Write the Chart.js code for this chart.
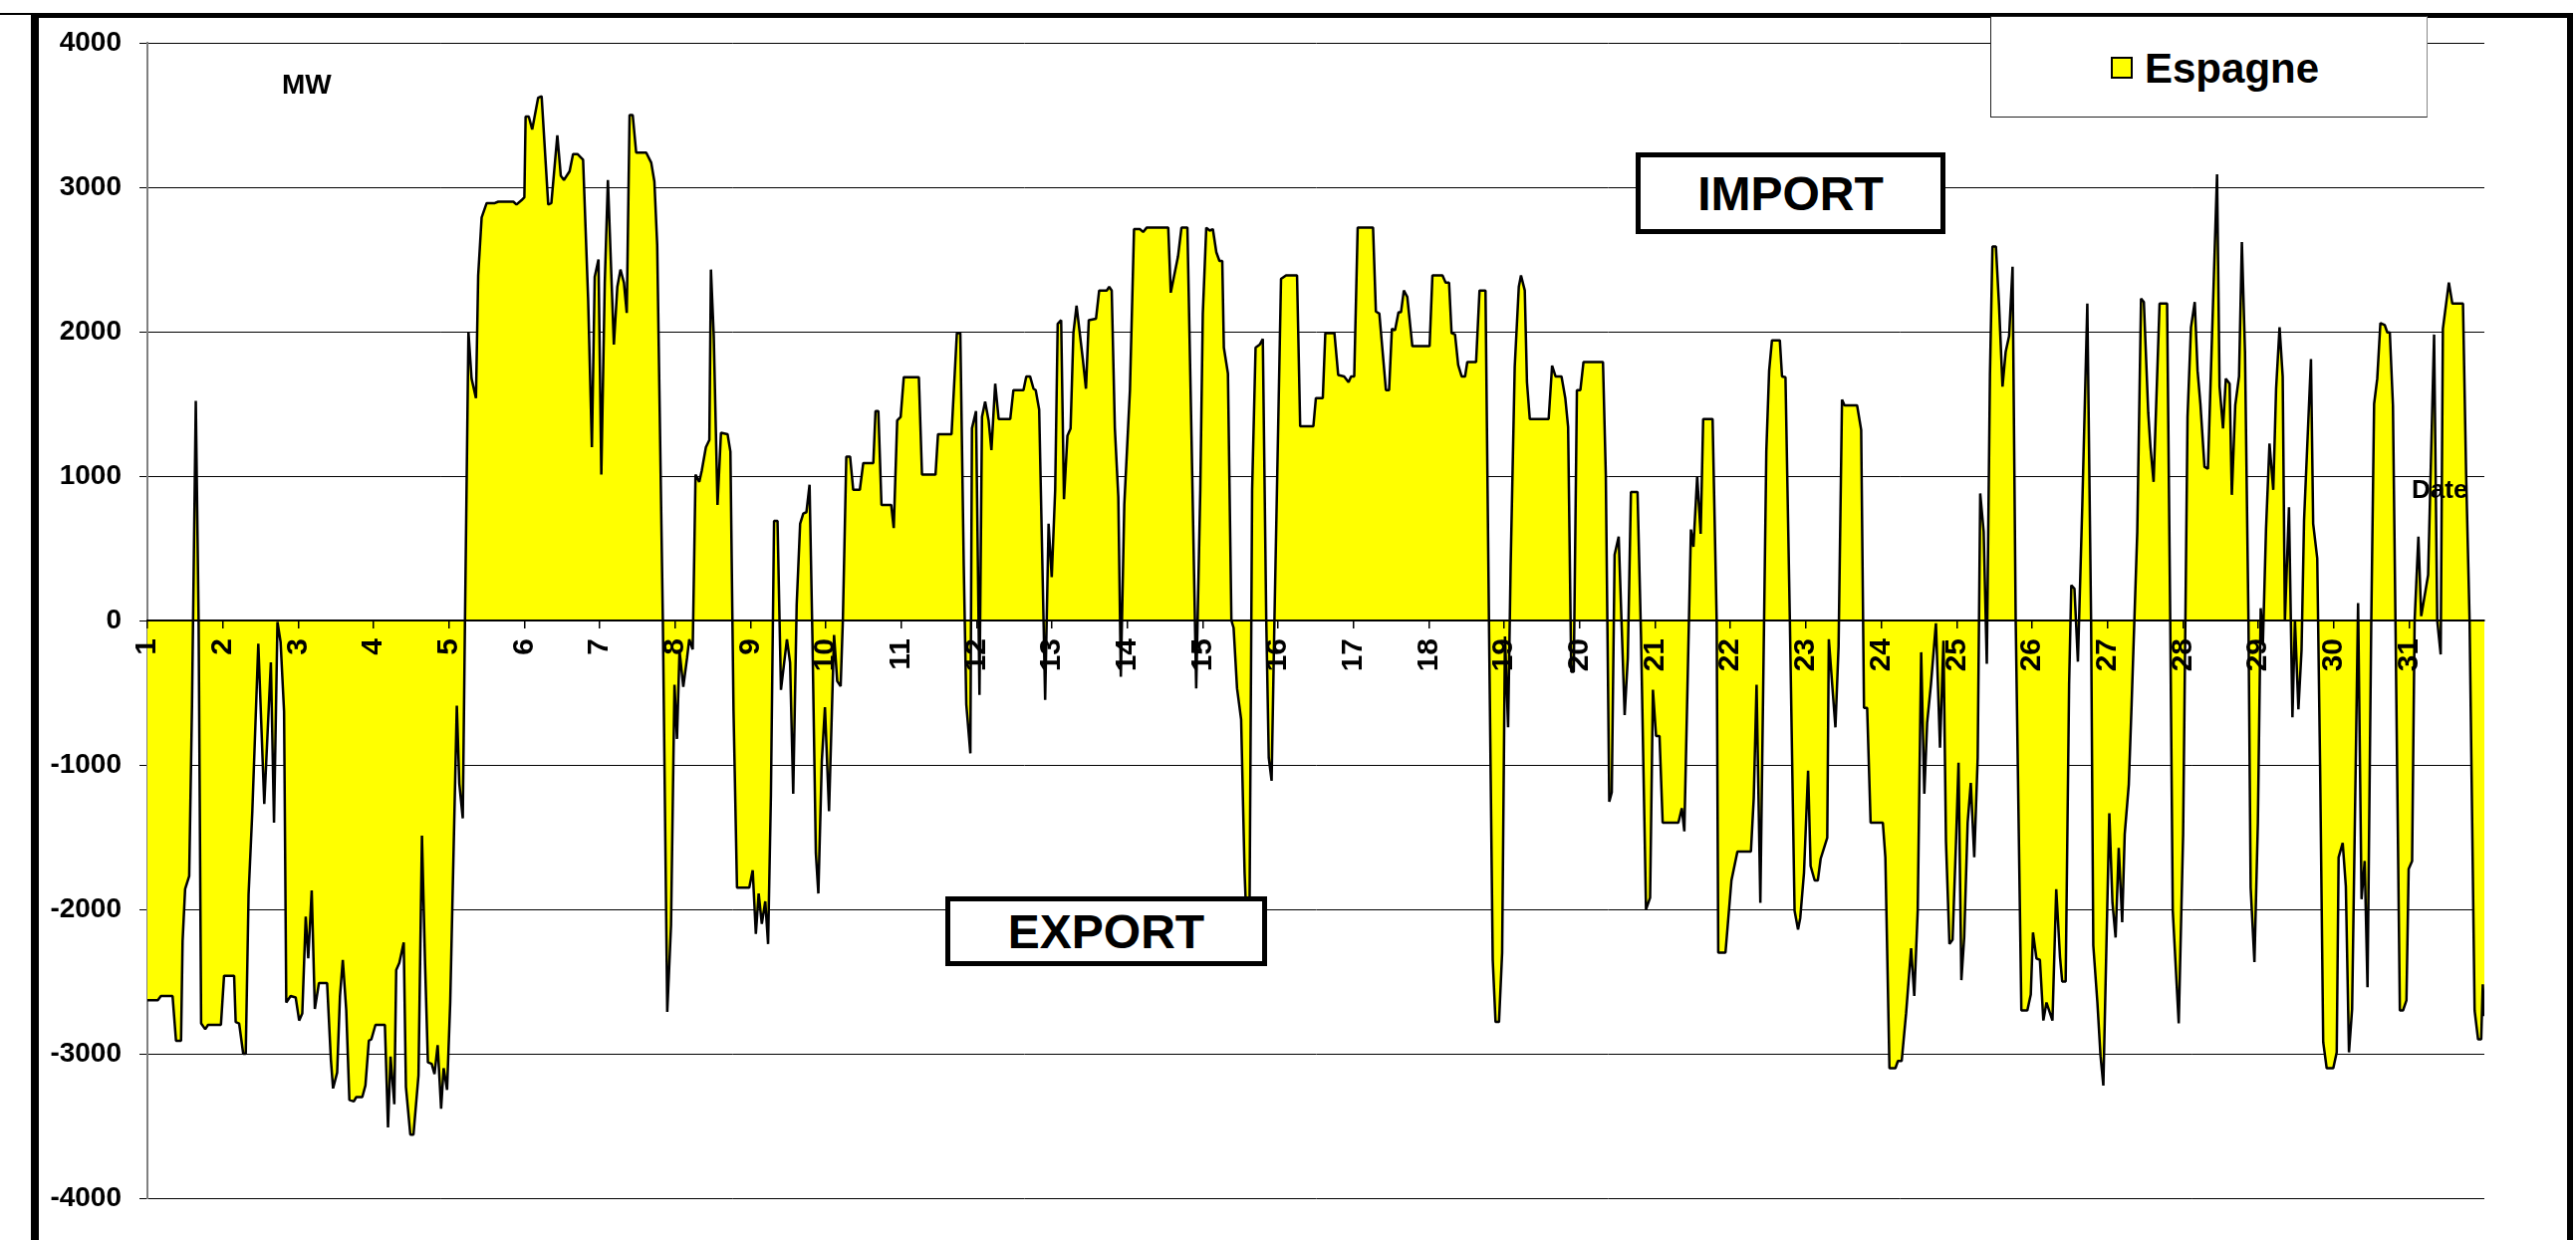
<!DOCTYPE html>
<html>
<head>
<meta charset="utf-8">
<script src="https://cdn.jsdelivr.net/npm/chart.js@4.4.0/dist/chart.umd.min.js"></script>
<style>
  body { margin: 0; background: #fff; }
  #wrap { position: relative; width: 2586px; height: 1245px; overflow: hidden;
          font-family: "Liberation Sans", Arial, sans-serif; font-weight: bold; color: #000; }
  canvas { position: absolute; left: 0; top: 0; }
  .line { position: absolute; background: #000; }
  .box { position: absolute; box-sizing: border-box; border: 5px solid #000; background: #fff;
         display: flex; align-items: center; justify-content: center; font-size: 48px; }
  .note { position: absolute; white-space: nowrap; }
  #legend { position: absolute; left: 1998px; top: 16px; width: 439px; height: 102px; box-sizing: border-box;
            background: #fff; border: 1.5px solid #222; border-right-color: #888; }
  #swatch { position: absolute; left: 120px; top: 40px; width: 22px; height: 22px; box-sizing: border-box;
            background: #ffff00; border: 2px solid #000; }
  #legtext { position: absolute; left: 154px; top: 31px; font-size: 42px; line-height: 42px; }
</style>
</head>
<body>
<div id="wrap">
  <canvas id="chart" width="2586" height="1245"></canvas>
  <div class="line" style="left:0;top:13px;width:31px;height:2px"></div>
  <div class="line" style="left:31px;top:13px;width:2552px;height:5px"></div>
  <div class="line" style="left:31px;top:13px;width:8px;height:1232px"></div>
  <div class="line" style="left:2577px;top:13px;width:6px;height:1232px"></div>
  <div id="legend"><div id="swatch"></div><div id="legtext">Espagne</div></div>
  <div class="note" style="left:283px;top:71px;font-size:28px;line-height:28px">MW</div>
  <div class="note" style="left:2421px;top:478px;font-size:26px;line-height:26px">Date</div>
  <div class="box" style="left:1642px;top:153px;width:311px;height:82px">IMPORT</div>
  <div class="box" style="left:949px;top:900px;width:323px;height:70px">EXPORT</div>
</div>
<script>
// hours since the 1st of the month, 00:00
const hours = [
  0, 3.3, 4.3, 8, 9.1, 10.7, 11.2, 12, 13.3, 14.2,
  15.4, 16.3, 17.1, 18.4, 19.3, 23.4, 24.4, 27.6, 28.1, 29.2,
  30.5, 31.3, 32.2, 33.4, 35.3, 37.2, 39.3, 40.3, 41.4, 42.4,
  43.5, 44.2, 45.6, 47.2, 48.3, 49.3, 50.4, 51.2, 52.3, 53.3,
  54.6, 57.2, 58.4, 59.1, 60.4, 61.3, 62.2, 63.3, 64.3, 65.7,
  66.5, 68.4, 69.4, 70.5, 71.3, 72.6, 75.6, 76.6, 77.4, 78.6,
  79.2, 80.2, 81.6, 82.3, 83.7, 84.7, 86.3, 87.4, 88.4, 89.3,
  90.5, 91.4, 92.4, 93.5, 94.3, 95.4, 96.4, 98.5, 99.3, 100.4,
  101.1, 102.2, 103.2, 104.6, 105.3, 106.4, 108, 110.6, 111.7, 116.5,
  117.5, 119.1, 120, 120.4, 121.4, 122.5, 124.4, 125.5, 127.6, 128.6,
  130.5, 131.6, 132.6, 134.4, 135.5, 136.9, 138.7, 140.3, 141.5, 142.4,
  143.6, 144.5, 145.6, 146.6, 148.5, 149.6, 150.6, 151.7, 152.6, 153.5,
  154.5, 155.6, 158.8, 160.4, 161.4, 162.3, 164.1, 165.5, 166.7, 167.8,
  168.6, 169.4, 170.6, 171.8, 172.5, 173.6, 174.5, 175.7, 176.5, 177.8,
  178.9, 179.4, 180.3, 181.5, 182.6, 184.7, 185.6, 186.6, 187.7, 191.6,
  192.7, 193.7, 194.6, 195.6, 196.7, 197.6, 198.5, 199.5, 200.6, 201.7,
  203.6, 204.6, 205.6, 206.7, 207.8, 208.8, 209.8, 210.8, 211.7, 212.8,
  213.6, 214.7, 215.7, 217, 218.6, 219.6, 220.7, 221.4, 222.5, 223.7,
  224.7, 226.8, 227.9, 231.1, 231.8, 232.7, 233.7, 236.8, 237.6, 238.7,
  239.8, 240.8, 245.6, 246.6, 250.9, 251.7, 256, 257.7, 258.8, 259.9,
  260.7, 262, 262.5, 263.8, 264.9, 265.7, 266.7, 267.8, 268.7, 269.9,
  271, 274.7, 275.7, 278.9, 279.8, 281, 282.1, 282.8, 283.9, 285.3,
  285.8, 286.9, 287.9, 289, 289.8, 290.9, 291.8, 292.9, 293.9, 294.8,
  295.8, 297.8, 298.8, 299.7, 302, 303, 305.4, 306.2, 307, 308,
  309.1, 309.9, 311, 312.8, 314.1, 316, 317, 318.1, 325, 325.8,
  328.1, 329.2, 331.1, 332.4, 333.9, 335.2, 336, 337.1, 338.2, 339.2,
  340.3, 341.3, 342.2, 342.7, 344, 345.1, 345.8, 346.9, 348.2, 349.3,
  350.3, 350.9, 351.7, 352.8, 354.1, 355.1, 356.2, 357, 357.9, 358.8,
  360.9, 362.5, 366, 367, 371.2, 372, 374.2, 375, 377.9, 379.1,
  381, 382.4, 383.2, 384.2, 385.3, 390.2, 391.1, 392.2, 394.3, 395.3,
  396.2, 397.2, 398.3, 399.1, 400, 401.1, 402.7, 408.2, 409.1, 412.3,
  413.3, 414.4, 415.2, 416.3, 417.3, 418.4, 419.5, 420.2, 423, 424.1,
  426, 427.1, 428.3, 429.2, 430.3, 431.3, 432.2, 433.2, 434, 435.3,
  436.6, 437.3, 438.5, 439.2, 440.1, 446.1, 447.2, 448.3, 450.2, 451.4,
  452.3, 453.3, 454.1, 455.1, 456.2, 457.2, 463.4, 464.3, 465.4, 466.2,
  467.1, 468.4, 470.3, 471.3, 472.3, 474.4, 475.5, 477.1, 478.4, 479.3,
  480.3, 481.4, 482.4, 487.4, 488.5, 489.3, 491.4, 492.2, 493.4, 494.5,
  495.3, 498.3, 499.6, 500.1, 502.4, 504.3, 506.2, 510.5, 511.4, 512.3,
  513.5, 515.4, 516.3, 517.2, 519.7, 520.4, 521.5, 522.9, 524.4, 525.5,
  526.2, 527.4, 528.7, 529.5, 530.8, 531.8, 532.7, 534, 534.8, 535.3,
  537.4, 538.4, 539.5, 540.3, 544.3, 545.6, 546.5, 547.5, 548.6, 552.5,
  553.3, 554.6, 556.5, 557.3, 558.5, 559.9, 561.5, 562.5, 563.6, 564.7,
  565.7, 566.6, 567.8, 569.4, 570.7, 571.8, 572.6, 573.7, 574.7, 575.8,
  576.6, 577.5, 578.4, 579.5, 580.5, 581.6, 582.7, 583.5, 584.6, 585.6,
  586.6, 587.4, 588.5, 589.5, 590.6, 591.6, 592.7, 593.8, 594.8, 596.6,
  598.5, 599.6, 600.3, 601.4, 602.5, 603.6, 604.6, 606.5, 607.7, 608.9,
  609.6, 610.7, 611.8, 612.5, 613.5, 614.6, 616, 617.6, 618.8, 619.5,
  620.8, 621.8, 622.7, 624.6, 625.6, 626.6, 627.6, 628.7, 629.5, 630.8,
  631.7, 633.5, 634.7, 635.6, 637, 637.7, 638.7, 640.6, 643, 644,
  644.8, 646.7, 648.1, 649.5, 650.6, 651.8, 652.7, 653.6, 654.9, 656,
  657.3, 658.9, 659.7, 660.8, 661.7, 662.9, 663.6, 664.7, 665.9, 666.8,
  667.8, 668.9, 669.6, 670.8, 671.9, 672.8, 673.5, 674.5, 675.6, 676.8,
  677.7, 678.8, 679.8, 680.5, 681.8, 682.9, 683.7, 684.8, 685.8, 686.6,
  688.8, 689.5, 690.8, 691.7, 692.7, 693.8, 695.9, 697, 697.6, 698.9,
  699.9, 700.9, 701.9, 703.8, 704.9, 705.9, 706.8, 708, 708.9, 709.9,
  710.9, 712.3, 713.1, 713.9, 714.9, 715.7, 717.1, 718.1, 719.2, 719.9,
  721, 721.8, 723, 723.9, 726.1, 728, 729, 730.1, 730.8, 732.7,
  733.8, 737.2, 738.2, 739.3, 740.9, 742, 743, 743.5, 744
];

// Espagne exchange, MW (positive = import, negative = export)
const espagne = [
  -2630, -2630, -2600, -2600, -2910, -2910, -2220, -1860, -1770, -580,
  1520, 0, -2790, -2830, -2800, -2800, -2460, -2460, -2780, -2790,
  -3000, -3000, -1900, -1320, -160, -1270, -290, -1400, -10, -150,
  -630, -2645, -2600, -2610, -2770, -2720, -2050, -2340, -1870, -2690,
  -2510, -2510, -3040, -3240, -3130, -2600, -2350, -2700, -3320, -3330,
  -3300, -3300, -3220, -2910, -2900, -2800, -2800, -3510, -3020, -3350,
  -2420, -2370, -2230, -3230, -3560, -3560, -3150, -1490, -2380, -3060,
  -3070, -3140, -2940, -3380, -3100, -3250, -2645, -590, -1130, -1370,
  0, 2000, 1675, 1540, 2390, 2790, 2890, 2890, 2900, 2900,
  2880, 2910, 2930, 3490, 3490, 3400, 3620, 3630, 2880, 2890,
  3360, 3080, 3050, 3110, 3230, 3230, 3190, 2230, 1200, 2380,
  2500, 1010, 2340, 3050, 1910, 2310, 2430, 2340, 2130, 3500,
  3500, 3240, 3240, 3170, 3040, 2600, 0, -2710, -2110, -445,
  -820, -210, -460, -260, -130, -200, 1010, 960, 1040, 1200,
  1250, 2430, 1970, 800, 1300, 1290, 1170, -630, -1850, -1850,
  -1730, -2170, -1890, -2100, -1945, -2240, -1210, 690, 690, -480,
  -130, -290, -1200, 110, 670, 740, 750, 940, -100, -1610,
  -1890, -975, -600, -1320, -100, -420, -455, 0, 1135, 1135,
  905, 905, 1090, 1090, 1450, 1450, 800, 800, 640, 1385,
  1410, 1685, 1685, 1010, 1010, 1290, 1290, 1990, 1990, 375,
  -580, -920, 1330, 1450, -515, 1410, 1515, 1385, 1180, 1640,
  1395, 1395, 1595, 1595, 1690, 1690, 1605, 1595, 1460, 0,
  -550, 670, 300, 905, 2055, 2080, 840, 1280, 1330, 1990,
  2180, 1810, 1605, 2080, 2090, 2285, 2285, 2310, 2285, 1330,
  855, -390, 800, 1595, 2710, 2710, 2690, 2720, 2720, 2270,
  2520, 2720, 2720, 1280, -470, 905, 2125, 2720, 2700, 2710,
  2550, 2490, 2490, 1890, 1710, 0, -50, -470, -685, -1745,
  -2300, -1940, 905, 1890, 1910, 1950, 0, -950, -1110, 0,
  2365, 2390, 2390, 1345, 1345, 1540, 1540, 1990, 1990, 1700,
  1690, 1650, 1690, 1690, 2720, 2720, 2140, 2125, 1595, 1595,
  2020, 2010, 2135, 2135, 2285, 2240, 1900, 1900, 2390, 2390,
  2340, 2340, 1990, 1980, 1770, 1690, 1690, 1790, 1790, 2285,
  2285, 0, -2350, -2780, -2780, -2300, -110, -740, 375, 1755,
  2310, 2390, 2285, 1650, 1395, 1395, 1765, 1690, 1690, 1540,
  1340, -355, -355, 1595, 1595, 1790, 1790, 1010, -1255, -1190,
  455, 580, -655, -260, 890, 890, -100, -2000, -1920, -480,
  -800, -800, -1400, -1400, -1300, -1460, 630, 510, 1000, 600,
  1395, 1395, 0, -2300, -2300, -1800, -1600, -1600, -1230, -445,
  -1955, 1170, 1730, 1940, 1940, 1690, 1685, 0, -2010, -2140,
  -2060, -1745, -1040, -1700, -1800, -1800, -1650, -1560, -1505, -130,
  -740, -180, 1530, 1490, 1490, 1320, -605, -605, -1400, -1400,
  -1640, -3100, -3100, -3050, -3050, -2720, -2270, -2600, -2010, -220,
  -1200, -710, -445, -20, -880, -140, -1530, -2240, -2210, -1530,
  -985, -2490, -2195, -1400, -1125, -1640, -950, 880, 615, -300,
  1700, 2590, 2590, 2180, 1620, 1860, 1970, 2450, 0, -2700,
  -2700, -2590, -2160, -2340, -2350, -2770, -2645, -2770, -1860, -2330,
  -2500, -2500, -445, 245, 220, -285, 800, 2195, 0, -2250,
  -2645, -3015, -3220, -1335, -1955, -2195, -1575, -2090, -1480, -1135,
  -580, 615, 2230, 2205, 1435, 1200, 960, 2195, 2195, 0,
  -2010, -2790, -1480, 1410, 2030, 2205, 1730, 1500, 1065, 1050,
  1970, 3090, 1620, 1330, 1675, 1640, 870, 1490, 1690, 2620,
  1860, 0, -1850, -2365, -1400, 85, -155, 640, 1225, 905,
  1605, 2030, 1690, 0, 785, -670, 0, -615, -205, 695,
  1810, 670, 430, -1000, -2920, -3100, -3100, -2990, -1640, -1540,
  -1840, -2990, -2690, 120, -1930, -1665, -2540, 0, 1500, 1675,
  2060, 2045, 1995, 1995, 1490, 0, -2700, -2700, -2630, -1720,
  -1665, 0, 580, 30, 315, 1980, 0, -235, 2020, 2340,
  2195, 2195, 1010, 0, -2700, -2900, -2900, -2520, -2740
];

// one tick per day (hour offset) and its label
const dayTicks = [0, 24, 48, 72, 96, 120, 144, 168, 192, 216, 240, 264, 288, 312, 336, 360,
  384, 408, 432, 456, 480, 504, 528, 552, 576, 600, 624, 648, 672, 696, 720];
const dayLabels = ['1', '2', '3', '4', '5', '6', '7', '8', '9', '10', '11', '12', '13', '14', '15', '16',
  '17', '18', '19', '20', '21', '22', '23', '24', '25', '26', '27', '28', '29', '30', '31'];

const font = '"Liberation Sans", Arial, sans-serif';

const ctx = document.getElementById('chart').getContext('2d');
const chart = new Chart(ctx, {
  type: 'line',
  data: {
    datasets: [
      {
        label: 'Espagne',
        data: hours.map((h, i) => ({ x: h, y: espagne[i] })),
        borderColor: '#000',
        backgroundColor: '#ffff00',
        borderWidth: 2.5,
        borderJoinStyle: 'bevel',
        fill: 'origin',
        pointRadius: 0,
        tension: 0,
      },
    ],
  },
  options: {
    responsive: false,
    animation: false,
    layout: { padding: { top: 43, right: 92, bottom: 42, left: 0 } },
    plugins: { legend: { display: false }, tooltip: { enabled: false } },
    scales: {
      x: {
        type: 'linear',
        min: 0,
        max: 744,
        position: { y: 0 },
        afterBuildTicks: (scale) => {
          scale.ticks = dayTicks.map((v) => ({ value: v }));
        },
        ticks: {
          callback: (v, i) => dayLabels[i],
          autoSkip: false,
          minRotation: 90,
          maxRotation: 90,
          padding: 11,
          z: 2,
          color: '#000',
          font: { family: font, size: 30, weight: 'bold' },
        },
        grid: { drawOnChartArea: false, tickLength: 7, color: '#000', lineWidth: 1.5, z: 1 },
        border: { color: '#000', width: 2, z: 1 },
      },
      y: {
        min: -4000,
        max: 4000,
        afterFit: (scale) => {
          scale.width = 148;
        },
        ticks: {
          stepSize: 1000,
          padding: 18,
          callback: (v) => String(v),
          color: '#000',
          font: { family: font, size: 28, weight: 'bold' },
        },
        grid: { color: '#000', lineWidth: 1, tickLength: 8 },
        border: { color: '#808080', width: 2 },
      },
    },
  },
});
</script>
</body>
</html>
